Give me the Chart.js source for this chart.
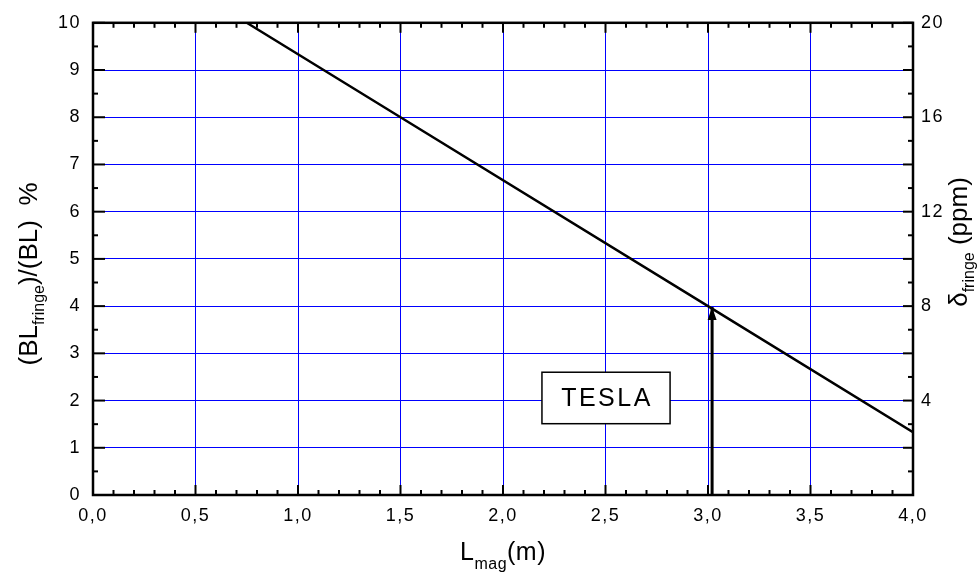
<!DOCTYPE html>
<html><head><meta charset="utf-8">
<script src="https://cdn.jsdelivr.net/npm/chart.js@4"></script>
<style>html,body{margin:0;padding:0;background:#fff;}canvas{display:block;}</style>
</head><body>
<canvas id="c" width="980" height="575"></canvas>
<script>
// Data
const lineX = [0.75, 1.5, 3.0, 4.0];
const lineY = [10, 8, 4, 1.33];
const arrowX = [3.02, 3.02];
const arrowY = [0, 3.98];
const teslaX = [2.19, 2.815];
const teslaY = [1.51, 2.6];
const teslaLabel = 'TESLA';
const xTickStep = 0.5;
const yLeftStep = 1;
const yRightStep = 4;

const FONT = "'Liberation Sans', Arial, sans-serif";

function richText(ctx, parts, size, subSize, subDrop) {
  ctx.textBaseline = 'alphabetic';
  ctx.textAlign = 'left';
  let w = 0;
  parts.forEach(p => { ctx.font = (p.sub ? subSize : size) + 'px ' + FONT; w += ctx.measureText(p.t).width; });
  let x = -w / 2;
  parts.forEach(p => {
    ctx.font = (p.sub ? subSize : size) + 'px ' + FONT;
    ctx.fillText(p.t, x, p.sub ? subDrop : 0);
    x += ctx.measureText(p.t).width;
  });
}

const decor = {
  id: 'decor',
  beforeDraw(chart) {
    try { chart.ctx.letterSpacing = '1.5px'; } catch (e) {}
  },
  afterDatasetsDraw(chart) {
    const ctx = chart.ctx, xs = chart.scales.x, ys = chart.scales.y;
    // arrow head
    const ax = xs.getPixelForValue(arrowX[1]), ay = ys.getPixelForValue(arrowY[1]);
    ctx.save();
    ctx.fillStyle = '#000';
    ctx.beginPath();
    ctx.moveTo(ax, ay);
    ctx.lineTo(ax - 4.5, ay + 13);
    ctx.lineTo(ax + 4.5, ay + 13);
    ctx.closePath();
    ctx.fill();
    // TESLA box
    const bx1 = xs.getPixelForValue(teslaX[0]), bx2 = xs.getPixelForValue(teslaX[1]);
    const by1 = ys.getPixelForValue(teslaY[1]), by2 = ys.getPixelForValue(teslaY[0]);
    ctx.fillStyle = '#fff';
    ctx.fillRect(bx1, by1, bx2 - bx1, by2 - by1);
    ctx.strokeStyle = '#000';
    ctx.lineWidth = 1.5;
    ctx.strokeRect(bx1, by1, bx2 - bx1, by2 - by1);
    ctx.fillStyle = '#000';
    ctx.font = '25px ' + FONT;
    try { ctx.letterSpacing = '2.5px'; } catch (e) {}
    ctx.textAlign = 'center';
    ctx.textBaseline = 'middle';
    ctx.fillText(teslaLabel, (bx1 + bx2) / 2 + 1, (by1 + by2) / 2 + 1);
    ctx.restore();
  },
  afterDraw(chart) {
    const ctx = chart.ctx, a = chart.chartArea;
    const xs = chart.scales.x, ys = chart.scales.y, y2 = chart.scales.y2;
    ctx.save();
    try { ctx.letterSpacing = '0px'; } catch (e) {}
    ctx.strokeStyle = '#000';
    ctx.lineCap = 'butt';
    // ticks
    function tick(x1, y1, x2, y2, w) { ctx.lineWidth = w; ctx.beginPath(); ctx.moveTo(x1, y1); ctx.lineTo(x2, y2); ctx.stroke(); }
    for (let i = 0; i <= 40; i++) {
      const v = i / 10, px = xs.getPixelForValue(v);
      const major = i % 5 === 0;
      const L = major ? 10 : 5;
      tick(px, a.bottom, px, a.bottom - L, 2);
      tick(px, a.top, px, a.top + L, 2);
    }
    for (let i = 0; i <= 20; i++) {
      const v = i / 2, py = ys.getPixelForValue(v);
      const major = i % 2 === 0;
      tick(a.left, py, a.left + (major ? 12 : 5), py, 2);
    }
    for (let i = 0; i <= 20; i++) {
      const py = y2.getPixelForValue(i);
      const major = i % 2 === 0;
      tick(a.right, py, a.right - (major ? 10 : 5), py, 2);
    }
    // border
    ctx.lineWidth = 2.5;
    ctx.strokeRect(a.left, a.top, a.right - a.left, a.bottom - a.top);
    ctx.fillStyle = '#000';
    // x title
    ctx.save();
    ctx.translate((a.left + a.right) / 2, 560);
    try { ctx.letterSpacing = '0.5px'; } catch (e) {}
    richText(ctx, [{t: 'L'}, {t: 'mag', sub: true}, {t: '(m)'}], 25, 16, 9);
    ctx.restore();
    // left title
    ctx.save();
    ctx.translate(37, 274);
    ctx.rotate(-Math.PI / 2);
    richText(ctx, [{t: '(BL'}, {t: 'fringe', sub: true}, {t: ')/(BL)  %'}], 26, 16, 7);
    ctx.restore();
    // right title
    ctx.save();
    ctx.translate(967, 242);
    ctx.rotate(-Math.PI / 2);
    richText(ctx, [{t: 'δ'}, {t: 'fringe', sub: true}, {t: ' (ppm)'}], 26, 16, 7);
    ctx.restore();
    ctx.restore();
  }
};

new Chart(document.getElementById('c'), {
  type: 'scatter',
  data: {
    datasets: [
      {
        data: lineX.map((x, i) => ({x, y: lineY[i]})),
        showLine: true, borderColor: '#000', borderWidth: 2.5, pointRadius: 0, tension: 0, yAxisID: 'y'
      },
      {
        data: arrowX.map((x, i) => ({x, y: arrowY[i]})),
        showLine: true, borderColor: '#000', borderWidth: 3, pointRadius: 0, tension: 0, yAxisID: 'y'
      }
    ]
  },
  plugins: [decor],
  options: {
    responsive: false,
    devicePixelRatio: 1,
    animation: false,
    layout: {padding: {top: 18, left: 0, right: 0, bottom: 0}},
    plugins: {legend: {display: false}, tooltip: {enabled: false}},
    scales: {
      x: {
        type: 'linear', position: 'bottom', min: 0, max: 4,
        grid: {color: '#0000ff', lineWidth: 1, drawTicks: false},
        border: {display: false},
        ticks: {stepSize: xTickStep, color: '#000', padding: 10, maxRotation: 0, autoSkip: false,
          font: {family: FONT, size: 18},
          callback: v => v.toFixed(1).replace('.', ',')},
        afterFit: s => { s.height = 80; }
      },
      y: {
        type: 'linear', position: 'left', min: 0, max: 10,
        grid: {color: '#0000ff', lineWidth: 1, drawTicks: false},
        border: {display: false},
        ticks: {stepSize: yLeftStep, color: '#000', padding: 12, font: {family: FONT, size: 18}},
        afterFit: s => { s.width = 93; }
      },
      y2: {
        type: 'linear', position: 'right', min: 0, max: 20,
        grid: {display: false, drawTicks: false},
        border: {display: false},
        ticks: {stepSize: yRightStep, color: '#000', padding: 8, font: {family: FONT, size: 18},
          callback: v => v === 0 ? '' : String(v)},
        afterFit: s => { s.width = 67; }
      }
    }
  }
});
</script>
</body></html>
